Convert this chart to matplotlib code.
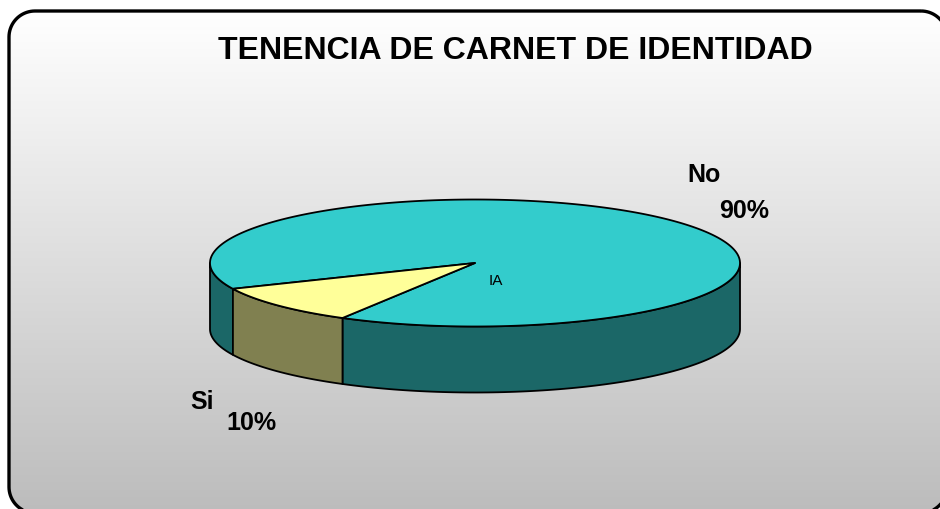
import numpy as np
import matplotlib
matplotlib.use("Agg")
import matplotlib.pyplot as plt
from matplotlib.patches import Polygon

# ---- data ----
categories = ["No", "Si"]
values = [90, 10]
pct_labels = ["90%", "10%"]
title = "TENENCIA DE CARNET DE IDENTIDAD"
top_colors = ["#33CCCC", "#FFFF99"]
side_colors = ["#1B6767", "#808050"]

W, H = 940, 510
fig = plt.figure(figsize=(W / 100, H / 100), dpi=100)
ax = fig.add_axes([0, 0, 1, 1])
ax.axis("off")

# rounded frame path (pixel coords, y downward)
x0, y0, x1, y1, r = 9, 12, 947, 514, 26

def rounded_rect(x0, y0, x1, y1, r, n=20):
    pts = []
    corners = [(x1 - r, y0 + r, -90, 0), (x1 - r, y1 - r, 0, 90),
               (x0 + r, y1 - r, 90, 180), (x0 + r, y0 + r, 180, 270)]
    for ccx, ccy, a0, a1 in corners:
        for tt in np.linspace(a0, a1, n):
            rr = np.radians(tt)
            pts.append((ccx + r * np.cos(rr), ccy + r * np.sin(rr)))
    return pts

frame_pts = rounded_rect(x0, y0, x1, y1, r)

grad = np.linspace(255, 188, 256)[:, None] / 255.0
img = np.dstack([grad, grad, grad])
im = ax.imshow(img, extent=[x0, x1, y1, y0], aspect="auto", zorder=0)
ax.set_xlim(0, W)
ax.set_ylim(H, 0)
clip_poly = Polygon(frame_pts, closed=True, fc="none", ec="none",
                    transform=ax.transData)
im.set_clip_path(clip_poly)
ax.add_patch(Polygon(frame_pts, closed=True, fc="none", ec="black",
                     lw=2.4, zorder=5, clip_on=False))

# ---- 3D pie ----
cx, cy, a, b, depth = 475, 264, 265, 63.5, 66
start = 240.0  # degrees, counterclockwise

def pt(t, dy=0.0):
    rr = np.radians(t)
    return cx + a * np.cos(rr), cy - b * np.sin(rr) + dy

total = float(sum(values))
angles = []
t = start
for v in values:
    span = 360.0 * v / total
    angles.append((t, t + span))
    t += span

lw = 1.3
for (t0, t1), sc in zip(angles, side_colors):
    for k in (-360, 0, 360):
        s0 = max(t0 + k, 180)
        s1 = min(t1 + k, 360)
        if s1 > s0:
            ts = np.linspace(s0, s1, 100)
            top = [pt(tt) for tt in ts]
            bot = [pt(tt, depth) for tt in ts[::-1]]
            ax.add_patch(Polygon(top + bot, closed=True, fc=sc, ec="black",
                                 lw=lw, joinstyle="round", zorder=2))

for (t0, t1), tc in zip(angles, top_colors):
    ts = np.linspace(t0, t1, 300)
    poly = [(cx, cy)] + [pt(tt) for tt in ts]
    ax.add_patch(Polygon(poly, closed=True, fc=tc, ec="black", lw=lw,
                         joinstyle="round", zorder=3))

fam = ["Liberation Sans", "DejaVu Sans"]
ax.text(515, 51, title, ha="center", va="center", fontsize=23,
        fontweight="bold", family=fam, zorder=6)
ax.text(704, 175, categories[0], ha="center", va="center", fontsize=18,
        fontweight="bold", family=fam, zorder=6)
ax.text(744, 211, pct_labels[0], ha="center", va="center", fontsize=18,
        fontweight="bold", family=fam, zorder=6)
ax.text(202, 402, categories[1], ha="center", va="center", fontsize=18,
        fontweight="bold", family=fam, zorder=6)
ax.text(251, 423, pct_labels[1], ha="center", va="center", fontsize=18,
        fontweight="bold", family=fam, zorder=6)
ax.text(495.5, 281, "IA", ha="center", va="center", fontsize=11,
        family=fam, zorder=6)

fig.savefig("out.png", dpi=100, facecolor="white")
